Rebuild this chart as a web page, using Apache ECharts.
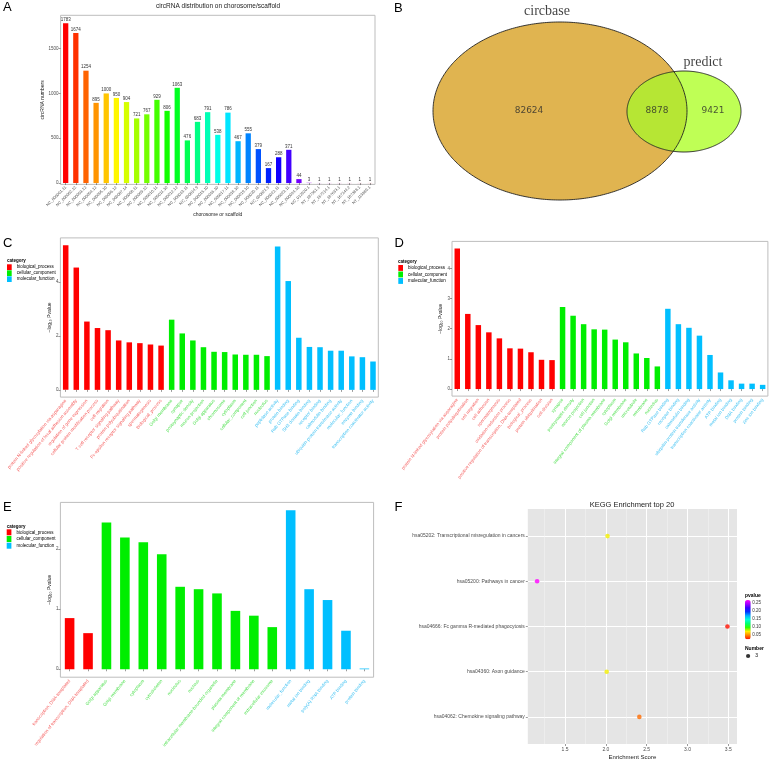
<!DOCTYPE html>
<html><head><meta charset="utf-8">
<script src="https://cdn.jsdelivr.net/npm/echarts@6/dist/echarts.min.js"></script>
<style>html,body{margin:0;padding:0;background:#fff}#c{width:770px;height:762px}</style>
</head><body><div id="c"></div>
<script>
// ---------- Panel A data ----------
const chromNames = ['NC_000001.11','NC_000002.12','NC_000003.12','NC_000004.12','NC_000005.10','NC_000006.12','NC_000007.14','NC_000008.11','NC_000009.12','NC_000010.11','NC_000011.10','NC_000012.12','NC_000013.11','NC_000014.9','NC_000015.10','NC_000016.10','NC_000017.11','NC_000018.10','NC_000019.10','NC_000020.11','NC_000021.9','NC_000022.11','NC_000023.11','NC_000024.10','NC_012920.1','NT_187361.1','NT_167214.1','NT_187633.1','NT_167244.2','NT_187388.1','NT_113889.1'];
const chromCounts = [1783,1674,1254,895,1000,950,904,721,767,929,806,1063,476,683,791,538,786,467,555,379,167,288,371,44,3,1,1,1,1,1,1];
const chromTicks = [0,500,1000,1500];

// ---------- Panel B data ----------
const vennSetNames = ['circbase','predict'];
const vennCounts = [82624, 8878, 9421]; // circbase only, both, predict only

// ---------- Panel C data ----------
const goCTerms = ['protein N-linked glycosylation via asparagine','positive regulation of focal adhesion assembly','regulation of gene expression','cellular protein modification process','cell migration','T cell receptor signaling pathway','protein polyubiquitination','Fc-epsilon receptor signaling pathway','spermatogenesis','biological_process',
 'Golgi membrane','synapse','postsynaptic density','neuron projection','Golgi apparatus','chromosome','cytoplasm','cellular_component','cell junction','nucleolus',
 'peptidase activity','protein binding','Rab GTPase binding','SH3 domain binding','receptor binding','calmodulin binding','ubiquitin-protein transferase activity','molecular_function','enzyme binding','transcription coactivator activity'];
const goCValues = [5.36,4.53,2.53,2.29,2.21,1.83,1.76,1.73,1.68,1.64, 2.60,2.09,1.83,1.58,1.41,1.40,1.31,1.30,1.30,1.25, 5.31,4.03,1.93,1.59,1.58,1.45,1.45,1.24,1.21,1.05];
const goCCategory = ['BP','BP','BP','BP','BP','BP','BP','BP','BP','BP','CC','CC','CC','CC','CC','CC','CC','CC','CC','CC','MF','MF','MF','MF','MF','MF','MF','MF','MF','MF'];
const goCTicks = [0,2,4];

// ---------- Panel D data ----------
const goDTerms = ['protein N-linked glycosylation via asparagine','protein polyubiquitination','cell migration','cell adhesion','spermatogenesis','oxidation-reduction process','positive regulation of transcription, DNA-templated','biological_process','protein ubiquitination','cell division',
 'synapse','postsynaptic density','neuron projection','cell junction','integral component of plasma membrane','cytoplasm','Golgi membrane','microtubule','membrane','nucleolus',
 'Rab GTPase binding','receptor binding','calmodulin binding','ubiquitin-protein transferase activity','transcription coactivator activity','ATP binding','metal ion binding','DNA binding','protein binding','zinc ion binding'];
const goDValues = [4.66,2.49,2.12,1.88,1.68,1.35,1.34,1.22,0.97,0.96, 2.72,2.43,2.15,1.98,1.97,1.64,1.55,1.18,1.03,0.75, 2.66,2.15,2.03,1.77,1.13,0.55,0.29,0.18,0.18,0.14];
const goDCategory = ['BP','BP','BP','BP','BP','BP','BP','BP','BP','BP','CC','CC','CC','CC','CC','CC','CC','CC','CC','CC','MF','MF','MF','MF','MF','MF','MF','MF','MF','MF'];
const goDTicks = [0,1,2,3,4];

// ---------- Panel E data ----------
const goETerms = ['transcription, DNA-templated','regulation of transcription, DNA-templated',
 'Golgi apparatus','Golgi membrane','cytoplasm','cytoskeleton','nucleolus','nucleus','intracellular membrane-bounded organelle','plasma membrane','integral component of membrane','extracellular exosome',
 'molecular_function','metal ion binding','poly(A) RNA binding','ATP binding','protein binding'];
const goEValues = [0.85,0.60, 2.44,2.19,2.11,1.91,1.37,1.33,1.26,0.97,0.89,0.70, 2.64,1.33,1.15,0.64,0.012];
const goECategory = ['BP','BP','CC','CC','CC','CC','CC','CC','CC','CC','CC','CC','MF','MF','MF','MF','MF'];
const goETicks = [0,1,2];

// ---------- Panel F data ----------
const keggTerms = ['hsa05202: Transcriptional misregulation in cancers','hsa05200: Pathways in cancer','hsa04666: Fc gamma R-mediated phagocytosis','hsa04360: Axon guidance','hsa04062: Chemokine signaling pathway'];
const keggScores = [2.02, 1.157, 3.49, 2.01, 2.41];
const keggPvalues = [0.072, 0.265, 0.022, 0.072, 0.042];
const keggNumbers = [3, 3, 3, 3, 3];
const keggMajorTicks = [1.5, 2.0, 2.5, 3.0, 3.5];
const keggMinorTicks = [1.25, 1.75, 2.25, 2.75, 3.25];
const pvalueTicks = [0.05, 0.10, 0.15, 0.20, 0.25];

// ---------- styles ----------
const FONT = 'Liberation Sans';
const CAT_FULL = {BP:'biological_process', CC:'cellular_component', MF:'molecular_function'};
const CAT_KEYS = ['BP','CC','MF'];
const BAR_COL = {BP:'#FF0000', CC:'#00EE00', MF:'#00BFFF'};
const LAB_COL = {BP:'#F45A5A', CC:'#4ADF4A', MF:'#3CC0F2'};
const TICK_COL = '#4D4D4D';
const FRAME = '#BDBDBD';

function rainbow(n){
  const out=[];
  for(let i=0;i<n;i++){
    const h=i/n*6, k=Math.floor(h), f=h-k, q=1-f; let r,g,b;
    switch(k%6){case 0:r=1;g=f;b=0;break;case 1:r=q;g=1;b=0;break;case 2:r=0;g=1;b=f;break;
      case 3:r=0;g=q;b=1;break;case 4:r=f;g=0;b=1;break;default:r=1;g=0;b=q;}
    out.push('rgb('+Math.round(r*255)+','+Math.round(g*255)+','+Math.round(b*255)+')');
  }
  return out;
}
const chromColors = rainbow(chromCounts.length);

const grids = [
  {left:60.6, top:15.3, width:314.4, height:169.1},   // 0 A
  {left:385, top:0, width:385, height:200},           // 1 B venn
  {left:60.4, top:237.9, width:317.9, height:159.2},  // 2 C
  {left:452, top:241.4, width:315.9, height:154.7},   // 3 D
  {left:60.4, top:502.4, width:313.2, height:174.8},  // 4 E
  {left:527.8, top:509, width:209.2, height:235},     // 5 F
  {left:745, top:600, width:5.7, height:39.3}         // 6 F colorbar scale
].map((g,i)=>Object.assign({containLabel:false, show: i!==1 && i!==6, borderColor:FRAME, borderWidth:1, backgroundColor:'#fff'}, g));
grids[5].backgroundColor = '#E5E5E5'; grids[5].borderWidth = 0;

const tickSty = {show:true, length:2, lineStyle:{color:'#555', width:0.6}};

function goXAxis(gi, terms, cats, rot){
  return {type:'category', gridIndex:gi, data:terms,
    axisLine:{show:false}, axisTick:Object.assign({alignWithLabel:true}, tickSty),
    axisLabel:{interval:0, rotate:rot, fontSize:4.5, margin:3, fontFamily:FONT,
      color:(v,i)=>LAB_COL[cats[i]]}, splitLine:{show:false}};
}
function goYAxis(gi, min, max, ticks, gap){
  return {type:'value', gridIndex:gi, min:min, max:max,
    name:'\u2212log\u2081\u2080 Pvalue', nameLocation:'middle', nameRotate:90, nameGap:gap,
    nameTextStyle:{fontSize:5, color:'#222', fontFamily:FONT},
    axisLine:{show:false}, axisTick:Object.assign({customValues:ticks}, tickSty),
    axisLabel:{customValues:ticks, fontSize:4.5, margin:2, color:TICK_COL, formatter:v=>String(v)},
    splitLine:{show:false}};
}
function goSeries(gi, values, cats){
  return CAT_KEYS.map(k=>({type:'bar', name:CAT_FULL[k], xAxisIndex:gi, yAxisIndex:gi, stack:'go'+gi,
    barWidth:'52%', itemStyle:{color:BAR_COL[k]}, silent:true,
    data: values.map((v,i)=> cats[i]===k ? v : '-')}));
}
function goLegend(left, top, ih, gap){
  return {orient:'vertical', left:left, top:top, padding:0, itemWidth:4.7, itemHeight:ih, itemGap:gap,
    icon:'rect', selectedMode:false, textStyle:{fontSize:4.5, color:'#000', fontFamily:FONT},
    data: CAT_KEYS.map(k=>CAT_FULL[k])};
}

// Venn layout (in grid-B units, which equal pixels of the panel)
const VENN_ELLIPSES = [[175,111,127,89],[299,111.5,57,40.5]];
const VENN_COUNT_POS = [[144,111],[272,111],[328,111]];
const VENN_SET_POS = [[162,11],[318,62]];
function ellPts(api, e, n){
  const c = api.coord([e[0],e[1]]); const s = api.size([e[2],e[3]]);
  const pts=[]; for(let i=0;i<n;i++){const a=i/n*Math.PI*2; pts.push([c[0]+s[0]*Math.cos(a), c[1]+s[1]*Math.sin(a)]);}
  return {pts, c, s};
}
function inside(p, E){ const dx=(p[0]-E.c[0])/E.s[0], dy=(p[1]-E.c[1])/E.s[1]; return dx*dx+dy*dy<=1; }
function vennRender(params, api){
  const A = ellPts(api, VENN_ELLIPSES[0], 360), B = ellPts(api, VENN_ELLIPSES[1], 360);
  let inter = A.pts.filter(p=>inside(p,B)).concat(B.pts.filter(p=>inside(p,A)));
  let cx=0, cy=0; inter.forEach(p=>{cx+=p[0];cy+=p[1];}); cx/=inter.length; cy/=inter.length;
  inter.sort((p,q)=>Math.atan2(p[1]-cy,p[0]-cx)-Math.atan2(q[1]-cy,q[0]-cx));
  return {type:'group', children:[
    {type:'polygon', shape:{points:A.pts}, style:{fill:'#E0B450', stroke:null}},
    {type:'polygon', shape:{points:B.pts}, style:{fill:'#BFFF55', stroke:null}},
    {type:'polygon', shape:{points:inter}, style:{fill:'#B6E634', stroke:null}},
    {type:'polygon', shape:{points:A.pts}, style:{fill:null, stroke:'#222', lineWidth:0.9}},
    {type:'polygon', shape:{points:B.pts}, style:{fill:null, stroke:'#222', lineWidth:0.9}}
  ]};
}

const xAxes = [
  {type:'category', gridIndex:0, data:chromNames, axisLine:{show:false},
   axisTick:Object.assign({alignWithLabel:true}, tickSty),
   axisLabel:{interval:0, rotate:45, fontSize:4, margin:2.5, color:TICK_COL},
   name:'chorosome or scaffold', nameLocation:'middle', nameGap:27.5,
   nameTextStyle:{fontSize:5, color:'#222'}},
  {type:'value', gridIndex:1, min:0, max:385, show:false},
  goXAxis(2, goCTerms, goCCategory, 50),
  goXAxis(3, goDTerms, goDCategory, 52),
  goXAxis(4, goETerms, goECategory, 51),
  {type:'value', gridIndex:5, min:1.043, max:3.607, axisLine:{show:false},
   axisTick:Object.assign({customValues:keggMajorTicks}, tickSty),
   axisLabel:{customValues:keggMajorTicks, fontSize:5, margin:3, color:TICK_COL, formatter:v=>v.toFixed(1)},
   splitLine:{show:true, lineStyle:{color:'#fff', width:1}},
   name:'Enrichment Score', nameLocation:'middle', nameGap:10, nameTextStyle:{fontSize:6, color:'#222'}},
  {type:'value', gridIndex:5, min:1.043, max:3.607, axisLine:{show:false},
   axisTick:{show:false, customValues:keggMinorTicks}, axisLabel:{show:false, customValues:keggMinorTicks},
   splitLine:{show:true, lineStyle:{color:'#F4F4F4', width:0.5}}},
  {type:'value', gridIndex:6, show:false, min:0, max:1}
];
const yAxes = [
  {type:'value', gridIndex:0, min:-15, max:1872, axisLine:{show:false},
   axisTick:Object.assign({customValues:chromTicks}, tickSty),
   axisLabel:{customValues:chromTicks, fontSize:4.5, margin:2, color:TICK_COL, formatter:v=>String(v)},
   splitLine:{show:false},
   name:'circRNA numbers', nameLocation:'middle', nameRotate:90, nameGap:15,
   nameTextStyle:{fontSize:5, color:'#222'}},
  {type:'value', gridIndex:1, min:0, max:200, inverse:true, show:false},
  goYAxis(2, -0.268, 5.628, goCTicks, 6),
  goYAxis(3, -0.233, 4.893, goDTicks, 5.5),
  goYAxis(4, -0.132, 2.772, goETicks, 6),
  {type:'value', gridIndex:5, min:0.4, max:5.6, axisLine:{show:false},
   axisTick:Object.assign({customValues:[1,2,3,4,5]}, tickSty),
   axisLabel:{customValues:[1,2,3,4,5], fontSize:5, margin:3, color:TICK_COL,
     formatter:v=>keggTerms[keggTerms.length-Math.round(v)]},
   splitLine:{show:true, lineStyle:{color:'#fff', width:1}}},
  {type:'value', gridIndex:6, min:0.022, max:0.265, position:'right', axisLine:{show:false},
   axisTick:{show:false, customValues:pvalueTicks},
   axisLabel:{customValues:pvalueTicks, fontSize:4.5, margin:1.5, color:'#333', formatter:v=>v.toFixed(2)},
   splitLine:{show:false}}
];

const series = [
  {type:'bar', xAxisIndex:0, yAxisIndex:0, data:chromCounts, barWidth:'52%', silent:true,
   itemStyle:{color:p=>chromColors[p.dataIndex]},
   label:{show:true, position:'top', distance:1, fontSize:4.5, color:'#333', formatter:p=>String(p.value)}},
  {type:'custom', xAxisIndex:1, yAxisIndex:1, data:[[0,0]], renderItem:vennRender, silent:true},
  {type:'scatter', xAxisIndex:1, yAxisIndex:1, symbolSize:0, silent:true,
   data: vennCounts.map((v,i)=>[VENN_COUNT_POS[i][0], VENN_COUNT_POS[i][1], v]),
   label:{show:true, position:'inside', formatter:p=>String(p.value[2]), fontSize:9, color:'#2a2a2a', fontFamily:'DejaVu Sans'}},
  {type:'scatter', xAxisIndex:1, yAxisIndex:1, symbolSize:0, silent:true,
   data: vennSetNames.map((s,i)=>[VENN_SET_POS[i][0], VENN_SET_POS[i][1], s]),
   label:{show:true, position:'inside', formatter:p=>p.value[2], fontSize:14, color:'#111', fontFamily:'Liberation Serif'}},
  ...goSeries(2, goCValues, goCCategory),
  ...goSeries(3, goDValues, goDCategory),
  ...goSeries(4, goEValues, goECategory),
  {type:'scatter', name:'3', xAxisIndex:5, yAxisIndex:5, symbolSize:4.6, silent:true,
   data: keggScores.map((s,i)=>[s, keggTerms.length-i, keggPvalues[i], keggNumbers[i]])}
];
const kIdx = series.length-1;

function txt(x,y,t,size,opts){
  return Object.assign({type:'text', x:x, y:y, silent:true, style:Object.assign({text:t, fontSize:size, fontFamily:FONT, fill:'#000',
    align:'left', verticalAlign:'middle', textAlign:'left', textVerticalAlign:'middle'}, opts||{})});
}

const option = {
  animation:false,
  textStyle:{fontFamily:FONT},
  grid: grids,
  xAxis: xAxes,
  yAxis: yAxes,
  series: series,
  legend: [
    goLegend(7, 264.3, 5.7, 0.3),
    goLegend(398.3, 265, 5.9, 0.6),
    goLegend(6.7, 529.3, 6, 0.7),
    {left:746, top:653.5, padding:0, itemWidth:4.2, itemHeight:4.2, selectedMode:false,
     textStyle:{fontSize:5, color:'#000'},
     data:[{name:'3', icon:'circle', itemStyle:{color:'#000'}}]}
  ],
  visualMap: [{type:'continuous', seriesIndex:kIdx, dimension:2, min:0.022, max:0.265,
    left:745, top:600, itemWidth:5.7, itemHeight:39.3, padding:0, calculable:false, hoverLink:false,
    inRange:{color:['#FF1000','#FF8000','#FFEE00','#30FF00','#00FF70','#00FFD8','#00B0FF','#0030FF','#3800FF','#A000FF','#FF00FF']}}],
  graphic: [
    txt(3,7.5,'A',13), txt(394,8,'B',13), txt(3,243.7,'C',13), txt(394.5,243,'D',13), txt(3,507.7,'E',13), txt(394.5,507,'F',13),
    txt(218,6,'circRNA distribution on chorosome/scaffold',6.5,{align:'center', textAlign:'center', fill:'#222'}),
    txt(632,505,'KEGG Enrichment top 20',7.5,{align:'center', textAlign:'center', fill:'#222'}),
    txt(7,260.3,'category',4.5,{fontWeight:'bold'}),
    txt(398,262,'category',4.5,{fontWeight:'bold'}),
    txt(6.7,526.7,'category',4.5,{fontWeight:'bold'}),
    txt(745,596,'pvalue',5,{fontWeight:'bold'}),
    txt(745,649,'Number',5,{fontWeight:'bold'})
  ]
};
const chart = echarts.init(document.getElementById('c'), null, {renderer:'canvas', width:770, height:762});
chart.setOption(option);
</script></body></html>
